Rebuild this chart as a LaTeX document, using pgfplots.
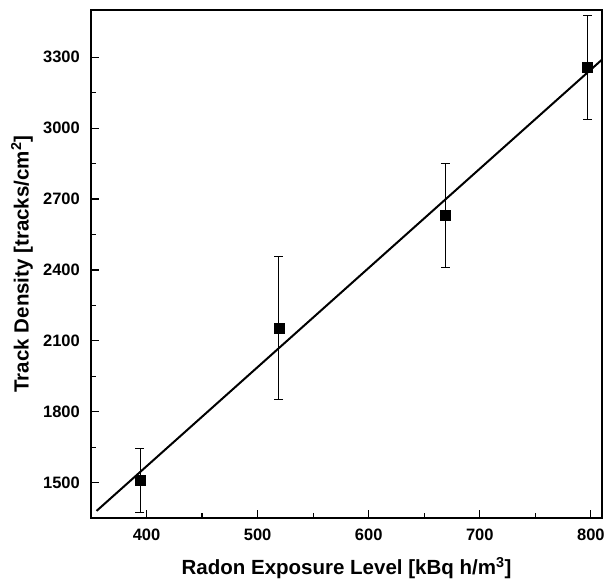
\documentclass[border=0pt]{standalone}
\usepackage{pgfplots}
\pgfplotsset{compat=1.18}
\usepackage{fontspec}
\setmainfont{Liberation Sans}
\begin{document}
\begin{tikzpicture}
\begin{axis}[
  scale only axis, width=511pt, height=508pt,
  xmin=350, xmax=810, ymin=1350, ymax=3500,
  xtick={400,500,...,800}, ytick={1500,1800,...,3300},
  minor x tick num=1, minor y tick num=1,
  axis line style={line width=1.6pt},
  tick align=inside, xtick pos=bottom, ytick pos=left,
  major tick length=8pt, minor tick length=5pt,
  tick style={line width=1.2pt, black},
  ticklabel style={font=\bfseries\fontsize{16.5}{16.5}\selectfont, inner sep=0pt},
  xticklabel style={anchor=north, yshift=-11pt},
  yticklabel style={anchor=east, xshift=-11pt},
  /pgf/number format/assume math mode=true,
  /pgf/number format/set thousands separator={},
  xlabel={Radon Exposure Level [kBq h/m\textsuperscript{3}]},
  ylabel={Track Density [tracks/cm\textsuperscript{2}]},
  label style={font=\bfseries\fontsize{20.5}{20.5}\selectfont, inner sep=0pt},
  xlabel style={at={(axis description cs:0.5,0)}, anchor=center, yshift=-50pt},
  ylabel style={at={(axis description cs:0,0.5)}, anchor=center, yshift=69pt},
]
\addplot[only marks, mark=square*, mark size=5pt, black,
  error bars/.cd, y dir=both, y explicit,
  error bar style={line width=0.6pt},
  error mark options={rotate=90, mark size=4.5pt, line width=0.6pt}]
  coordinates {
  (394,1510) +- (0,135)
  (519,2155) +- (0,303)
  (669,2630) +- (0,220)
  (797,3258) +- (0,220)
};
\addplot[black, line width=2pt, no marks] coordinates {(355,1380) (810,3290)};
\end{axis}
\pgfresetboundingbox
\path ([shift={(-91pt,-65pt)}]current axis.south west) rectangle ([shift={(3pt,10pt)}]current axis.north east);
\end{tikzpicture}
\end{document}
